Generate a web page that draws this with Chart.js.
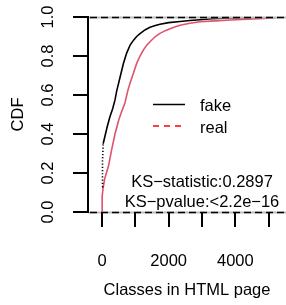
<!DOCTYPE html>
<html>
<head>
<meta charset="utf-8">
<script src="https://cdn.jsdelivr.net/npm/chart.js@4/dist/chart.umd.min.js"></script>
<style>
html,body{margin:0;padding:0;background:#fff;}
#wrap{width:286px;height:305px;}
</style>
</head>
<body>
<div id="wrap"><canvas id="c" width="286" height="305"></canvas></div>
<script>
// ECDF of "fake" (x = classes in HTML page, y = cumulative fraction)
const fakeX = [0, 10, 20, 35, 90, 160, 240, 320, 390, 440, 540, 640, 740, 840, 940, 1040, 1140, 1300, 1440, 1600, 1740, 2000, 2340, 2640, 2940, 3300, 3800, 4500, 5520];
const fakeY = [0.13, 0.19, 0.26, 0.35, 0.39, 0.44, 0.49, 0.53, 0.575, 0.62, 0.69, 0.76, 0.815, 0.855, 0.88, 0.90, 0.915, 0.935, 0.947, 0.956, 0.963, 0.971, 0.977, 0.982, 0.986, 0.991, 0.995, 0.998, 1.0];
// ECDF of "real"
const realX = [0, 0, 10, 30, 80, 150, 200, 290, 390, 500, 600, 690, 770, 840, 940, 1040, 1140, 1240, 1340, 1440, 1600, 1740, 1900, 2040, 2200, 2340, 2640, 2940, 3400, 3840, 4200, 4540, 5000, 5450];
const realY = [0.0, 0.04, 0.08, 0.12, 0.17, 0.21, 0.24, 0.32, 0.40, 0.47, 0.52, 0.56, 0.62, 0.66, 0.71, 0.762, 0.80, 0.83, 0.855, 0.873, 0.90, 0.916, 0.93, 0.94, 0.95, 0.958, 0.968, 0.976, 0.98, 0.985, 0.988, 0.99, 0.994, 1.0];

const seriesNames = ['fake', 'real'];
const xTicks = [0, 1000, 2000, 3000, 4000, 5000];
const xTickLabels = ['0', '', '2000', '', '4000', ''];
const yTicks = [0, 0.2, 0.4, 0.6, 0.8, 1.0];
const yTickLabels = ['0.0', '0.2', '0.4', '0.6', '0.8', '1.0'];
const xTitle = 'Classes in HTML page';
const yTitle = 'CDF';
const ksLines = ['KS\u2212statistic:0.2897', 'KS\u2212pvalue:<2.2e\u221216'];
const ksPos = [[3000, 0.15], [3000, 0.05]];
const legendPos = [[1530, 2490, 2940, 0.5513], [1530, 2490, 2940, 0.441]];

const FONT = 'Liberation Sans, Arial, Helvetica, sans-serif';
const FS = 16.5;
const curveColors = ['#000000', '#DF536B'];
const legendColors = ['#000000', '#FF0000'];

const toPts = (xs, ys) => xs.map((x, i) => ({x: x, y: ys[i]}));

const axesDecor = {
  id: 'axesDecor',
  afterDraw(chart) {
    const {ctx, chartArea, scales} = chart;
    const xs = scales.x, ys = scales.y;
    const L = Math.round(chartArea.left);
    ctx.save();
    ctx.fillStyle = '#000000';
    // y axis line
    const yTop = Math.round(ys.getPixelForValue(1)), yBot = Math.round(ys.getPixelForValue(0));
    ctx.fillRect(L - 1, yTop - 1, 2, yBot - yTop + 2);
    // y tick marks
    for (let i = 0; i < yTicks.length; i++) {
      const py = Math.round(ys.getPixelForValue(yTicks[i]));
      ctx.fillRect(L - 15, py - 1, 16, 2);
    }
    // x tick marks
    xTicks.forEach(v => {
      const px = Math.round(xs.getPixelForValue(v));
      ctx.fillRect(px - 1, Math.round(chartArea.bottom) + 1, 2, 14);
    });
    ctx.font = FS + 'px ' + FONT;
    // y tick labels (rotated, reading upward)
    yTicks.forEach((v, i) => {
      const py = ys.getPixelForValue(v);
      ctx.save();
      ctx.translate(L - 35, py);
      ctx.rotate(-Math.PI / 2);
      ctx.textAlign = 'center';
      ctx.textBaseline = 'alphabetic';
      ctx.fillText(yTickLabels[i], 0, 0);
      ctx.restore();
    });
    // x tick labels
    ctx.textAlign = 'center';
    ctx.textBaseline = 'alphabetic';
    xTicks.forEach((v, i) => {
      if (xTickLabels[i]) ctx.fillText(xTickLabels[i], xs.getPixelForValue(v), chartArea.bottom + 54);
    });
    ctx.restore();
  },
  afterDatasetsDraw(chart) {
    const {ctx, chartArea, scales} = chart;
    const xs = scales.x, ys = scales.y;
    ctx.save();
    [0, 1].forEach(v => {
      const py = Math.round(ys.getPixelForValue(v)) + 0.5;
      ctx.beginPath();
      ctx.strokeStyle = '#bdbdbd';
      ctx.lineWidth = 2;
      ctx.setLineDash([]);
      ctx.moveTo(chartArea.left, py); ctx.lineTo(chartArea.right, py);
      ctx.stroke();
      ctx.beginPath();
      ctx.strokeStyle = '#000';
      ctx.lineWidth = 1.6;
      ctx.setLineDash([7, 4]);
      ctx.moveTo(chartArea.left + 2, py); ctx.lineTo(chartArea.right, py);
      ctx.stroke();
    });
    ctx.setLineDash([]);
    ctx.fillStyle = '#000';
    ctx.font = FS + 'px ' + FONT;
    ctx.textAlign = 'center';
    ctx.textBaseline = 'middle';
    ksLines.forEach((t, i) => {
      ctx.fillText(t, xs.getPixelForValue(ksPos[i][0]), ys.getPixelForValue(ksPos[i][1]));
    });
    legendPos.forEach((p, i) => {
      const x0 = xs.getPixelForValue(p[0]), x1 = xs.getPixelForValue(p[1]);
      const py = ys.getPixelForValue(p[3]);
      ctx.beginPath();
      ctx.strokeStyle = legendColors[i];
      ctx.lineWidth = 1.5;
      ctx.setLineDash(i === 1 ? [6, 5] : []);
      ctx.moveTo(x0, py); ctx.lineTo(x1, py);
      ctx.stroke();
      ctx.setLineDash([]);
      ctx.textAlign = 'left';
      ctx.textBaseline = 'alphabetic';
      ctx.fillStyle = '#000';
      ctx.fillText(seriesNames[i], xs.getPixelForValue(p[2]), py + 6.5);
    });
    ctx.restore();
  }
};

new Chart(document.getElementById('c'), {
  type: 'line',
  data: {
    datasets: [
      {
        label: seriesNames[0],
        data: toPts(fakeX, fakeY),
        borderColor: curveColors[0],
        borderWidth: 1.6,
        pointRadius: 0,
        tension: 0,
        fill: false,
        segment: {
          borderDash: c => (c.p1.parsed.y <= 0.355 ? [1.2, 2] : undefined)
        }
      },
      {
        label: seriesNames[1],
        data: toPts(realX, realY),
        borderColor: curveColors[1],
        borderWidth: 1.6,
        pointRadius: 0,
        tension: 0,
        fill: false
      }
    ]
  },
  options: {
    responsive: false,
    animation: false,
    devicePixelRatio: 1,
    layout: {padding: {top: 17, right: 0, left: 0, bottom: 0}},
    plugins: {legend: {display: false}, tooltip: {enabled: false}},
    scales: {
      x: {
        type: 'linear',
        min: -420, max: 5520,
        afterBuildTicks: s => { s.ticks = xTicks.map(v => ({value: v})); },
        afterFit: s => { s.height = 93; },
        ticks: {display: false},
        grid: {display: false},
        border: {display: false},
        title: {display: true, text: xTitle, color: '#000', font: {family: FONT, size: FS}, padding: {top: 0, bottom: 5}}
      },
      y: {
        type: 'linear',
        min: 0, max: 1,
        afterBuildTicks: s => { s.ticks = yTicks.map(v => ({value: v})); },
        afterFit: s => { s.width = 88; },
        ticks: {display: false},
        grid: {display: false},
        border: {display: false},
        title: {display: true, text: yTitle, color: '#000', font: {family: FONT, size: FS}, padding: {top: 9, bottom: 0}}
      }
    }
  },
  plugins: [axesDecor]
});
</script>
</body>
</html>
